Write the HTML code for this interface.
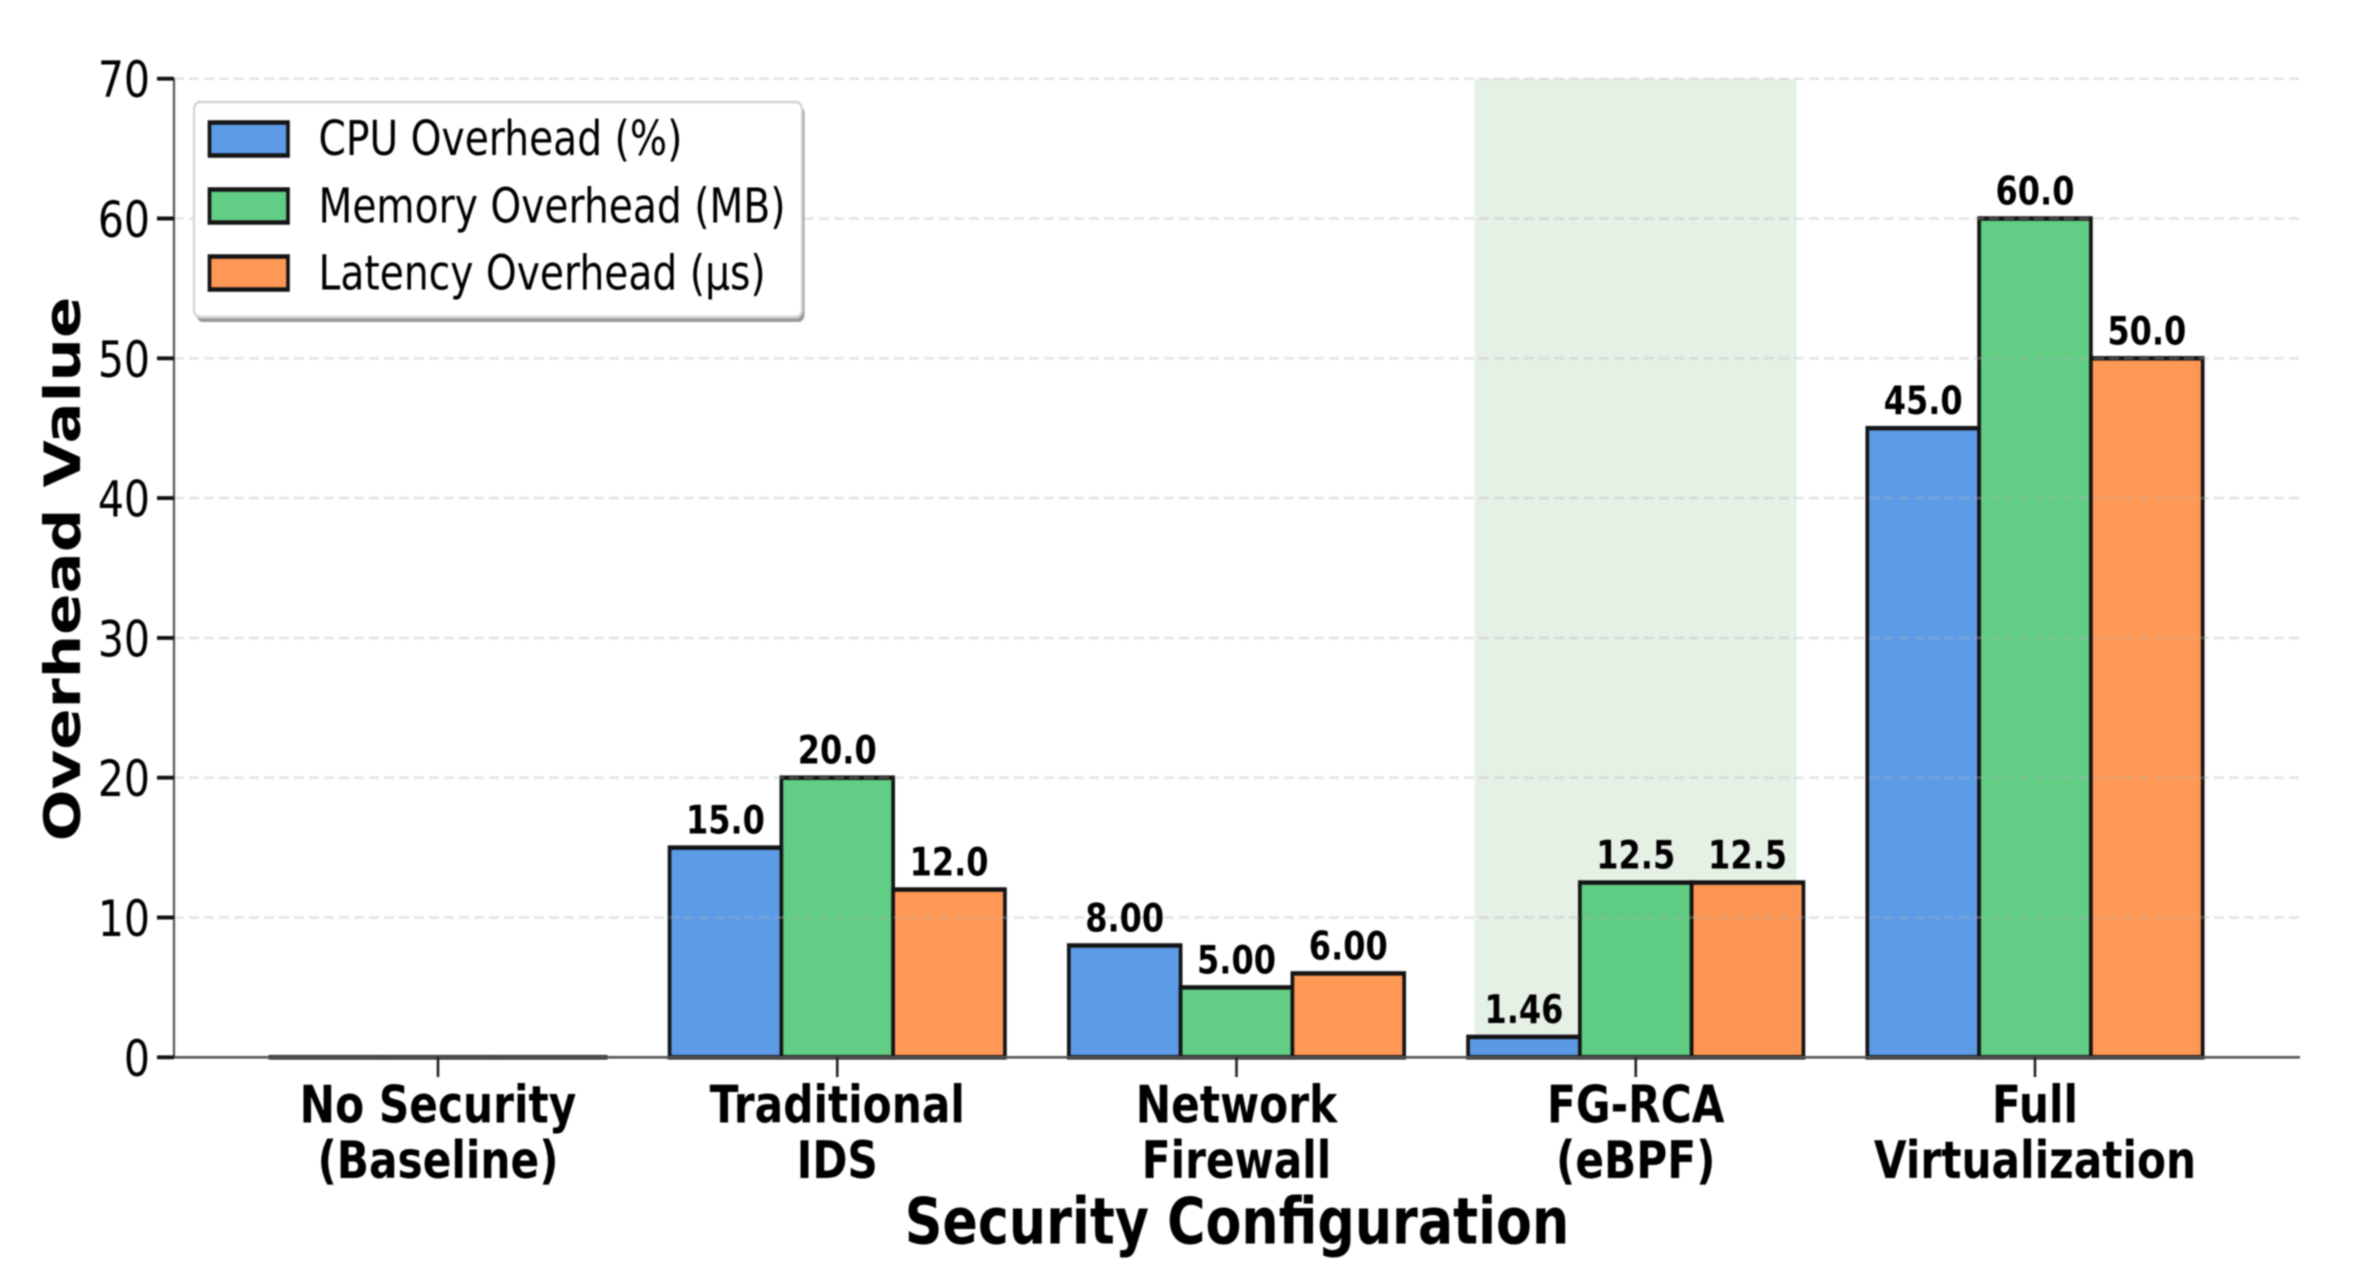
<!DOCTYPE html>
<html lang="en">
<head>
<meta charset="utf-8">
<title>Security Configuration Overhead Chart</title>
<style>
html,body{margin:0;padding:0;background:#fff;width:2357px;height:1288px;overflow:hidden}
svg{display:block;filter:blur(0.9px)}
text{font-family:"DejaVu Sans","Liberation Sans",sans-serif;fill:#000}
</style>
</head>
<body>
<svg id="chart" xmlns="http://www.w3.org/2000/svg" width="2357" height="1288" viewBox="0 0 2357 1288"></svg>
<script>
const categories = [["No Security", "(Baseline)"], ["Traditional", "IDS"], ["Network", "Firewall"], ["FG-RCA", "(eBPF)"], ["Full", "Virtualization"]];
const cpuValues = [0, 15, 8, 1.46, 45];
const memoryValues = [0, 20, 5, 12.5, 60];
const latencyValues = [0, 12, 6, 12.5, 50];
const yTicks = [0, 10, 20, 30, 40, 50, 60, 70];
const seriesNames = ["CPU Overhead (%)", "Memory Overhead (MB)", "Latency Overhead (µs)"];
const seriesKeys = ["cpu", "memory", "latency"];
const highlightedCategory = 3;

const SY = 1.22;
const NS = "http://www.w3.org/2000/svg";
const seriesValues = [cpuValues, memoryValues, latencyValues];
const seriesColors = ["#4a90e2", "#50c878", "#ff8c42"];
const plotLeft = 174, plotRight = 2300, plotTop = 78.7, plotBottom = 1057.3;
const xFirst = 438, xStep = 399.25, barWidth = 0.28 * xStep;
const yMax = 70;

function xScale(i) { return xFirst + i * xStep; }
function yPixel(v) { return plotBottom - (plotBottom - plotTop) * v / yMax; }
function yScale(v) { return yPixel(v) / SY; }
function py(p) { return p / SY; }

const root = document.getElementById("chart");
const g = document.createElementNS(NS, "g");
g.setAttribute("transform", "scale(1," + SY + ")");


root.appendChild(g);

function make(tag, attrs, parent, name, interact) {
  const el = document.createElementNS(NS, tag);
  for (const k in attrs) el.setAttribute(k, attrs[k]);
  
  
  (parent || g).appendChild(el);
  return el;
}
function label(str, x, y, size, weight, anchor, name, parent) {
  const t = make("text", {x: x, y: y, "font-size": size, "font-weight": weight, "text-anchor": anchor}, parent, name, false);
  t.textContent = str;
  return t;
}

/* highlight band */
make("rect", {
  x: xScale(highlightedCategory) - 0.403 * xStep, y: yScale(yMax),
  width: 0.806 * xStep, height: yScale(0) - yScale(yMax), fill: "#e6f1e6"
}, g, "fg-rca-highlight-band", false);

/* bars */
seriesValues.forEach(function (vals, s) {
  vals.forEach(function (v, i) {
    const x = xScale(i) + (s - 1) * barWidth - barWidth / 2;
    make("rect", {
      x: x, y: yScale(v), width: barWidth, height: Math.max(yScale(0) - yScale(v), 0.02),
      fill: seriesColors[s], "fill-opacity": 0.9, stroke: "#141414", "stroke-width": 3.7
    }, g, "bar-" + seriesKeys[s] + "-" + i, true);
  });
});

/* grid */
yTicks.forEach(function (t) {
  if (t === 0) return;
  make("line", {
    x1: plotLeft, x2: plotRight, y1: yScale(t), y2: yScale(t),
    stroke: "#b4b4b4", "stroke-opacity": 0.33, "stroke-width": 2.2, "stroke-dasharray": "10 5"
  }, g, "grid-line-" + t, false);
});

/* spines */
make("line", {x1: plotLeft, x2: plotLeft, y1: yScale(yMax), y2: yScale(0) + 1, stroke: "#555", "stroke-width": 2.2}, g, "y-axis-line", false);
make("line", {x1: plotLeft, x2: plotRight, y1: yScale(0), y2: yScale(0), stroke: "#555", "stroke-width": 2.2}, g, "x-axis-line", false);

/* y ticks */
yTicks.forEach(function (t) {
  make("line", {x1: 157, x2: plotLeft, y1: yScale(t), y2: yScale(t), stroke: "#111", "stroke-width": 3.2}, g, "y-tick-" + t, false);
  label(String(t), 150, yScale(t) + py(18.5), 41, "normal", "end", "y-tick-label-" + t);
});

/* x ticks + labels */
categories.forEach(function (lines, i) {
  make("line", {x1: xScale(i), x2: xScale(i), y1: yScale(0), y2: py(1077), stroke: "#222", "stroke-width": 2.6}, g, "x-tick-" + i, false);
  label(lines[0], xScale(i), py(1122.7), 42.3, "bold", "middle", "x-tick-label-" + i + "-line-1");
  label(lines[1], xScale(i), py(1178.2), 42.3, "bold", "middle", "x-tick-label-" + i + "-line-2");
});

/* value labels */
seriesValues.forEach(function (vals, s) {
  vals.forEach(function (v, i) {
    if (v === 0) return;
    const x = xScale(i) + (s - 1) * barWidth;
    label(v.toPrecision(3), x, yScale(v) - py(14), 32, "bold", "middle", "value-label-" + seriesKeys[s] + "-" + i);
  });
});

/* axis titles */
label("Security Configuration", 1237, py(1243.5), 52.3, "bold", "middle", "x-axis-title");
const yTitle = label("Overhead Value", 0, 0, 50, "bold", "middle", "y-axis-title");
yTitle.setAttribute("transform", "translate(80," + py(569) + ") rotate(-90)");

/* legend */
const legend = make("g", {}, g, "legend", false);
make("rect", {x: 196.5, y: py(106), width: 608, height: py(216), rx: 6, ry: 6, fill: "#9a9a9a"}, legend, "legend-shadow", false);
make("rect", {x: 194, y: py(102), width: 608, height: py(215), rx: 6, ry: 6, fill: "#fff", stroke: "#d4d4d4", "stroke-width": 2.2}, legend, "legend-frame", false);
const patchTops = [122.5, 189.5, 256.5];
const textBase = [155.2, 222.7, 289.7];
seriesNames.forEach(function (name, s) {
  const entry = make("g", {}, legend, "legend-entry-" + seriesKeys[s], true);
  make("rect", {x: 209.5, y: py(patchTops[s]), width: 78.5, height: py(33), fill: seriesColors[s], "fill-opacity": 0.9, stroke: "#141414", "stroke-width": 3.7}, entry, "legend-swatch-" + seriesKeys[s], false);
  label(name, 318.5, py(textBase[s]), 39.2, "normal", "start", "legend-label-" + seriesKeys[s], entry);
});
</script>
</body>
</html>
